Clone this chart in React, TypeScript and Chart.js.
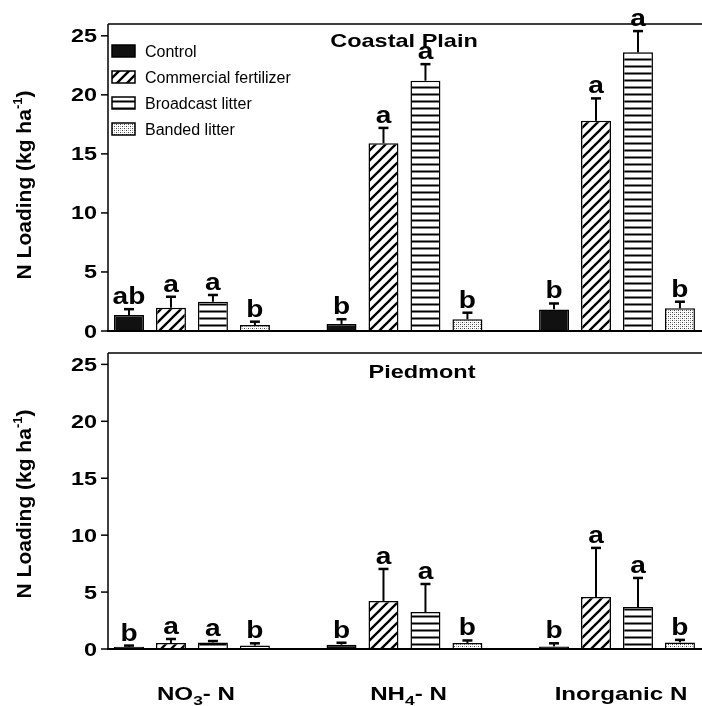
import React, { useEffect, useRef } from 'react';
import { Chart, registerables } from 'chart.js';

Chart.register(...registerables);

// ---------------- data ----------------
const categories = ['NO₃- N', 'NH₄- N', 'Inorganic N'];
const seriesNames = ['Control', 'Commercial fertilizer', 'Broadcast litter', 'Banded litter'];
const yTicks = [0, 5, 10, 15, 20, 25];
const yAxisTitle = 'N Loading (kg ha⁻¹)';

// Coastal Plain
const cpControl = [1.35, 0.6, 1.83];
const cpFertilizer = [1.97, 15.9, 17.8];
const cpBroadcast = [2.48, 21.2, 23.6];
const cpBanded = [0.5, 0.99, 1.92];
const cpControlErr = [0.5, 0.4, 0.5];
const cpFertilizerErr = [0.93, 1.3, 1.9];
const cpBroadcastErr = [0.57, 1.4, 1.8];
const cpBandedErr = [0.29, 0.56, 0.56];
const cpControlLetters = ['ab', 'b', 'b'];
const cpFertilizerLetters = ['a', 'a', 'a'];
const cpBroadcastLetters = ['a', 'a', 'a'];
const cpBandedLetters = ['b', 'b', 'b'];

// Piedmont
const pdControl = [0.2, 0.38, 0.23];
const pdFertilizer = [0.53, 4.22, 4.57];
const pdBroadcast = [0.58, 3.25, 3.69];
const pdBanded = [0.3, 0.53, 0.58];
const pdControlErr = [0.1, 0.17, 0.27];
const pdFertilizerErr = [0.35, 2.81, 4.31];
const pdBroadcastErr = [0.12, 2.46, 2.55];
const pdBandedErr = [0.2, 0.22, 0.22];
const pdControlLetters = ['b', 'b', 'b'];
const pdFertilizerLetters = ['a', 'a', 'a'];
const pdBroadcastLetters = ['a', 'a', 'a'];
const pdBandedLetters = ['b', 'b', 'b'];

// ---------------- helpers ----------------
const FAMILY = '"Liberation Sans", Arial, Helvetica, sans-serif';
const STRETCH = 1.27;

type Run = { t: string; size: number; dy: number };

function drawRuns(
  ctx: CanvasRenderingContext2D,
  runs: Run[],
  x: number,
  y: number,
  align: 'left' | 'center' | 'right',
  sx: number,
  weight = 'bold'
) {
  ctx.save();
  const widths = runs.map((r) => {
    ctx.font = `${weight} ${r.size}px ${FAMILY}`;
    return ctx.measureText(r.t).width;
  });
  const total = widths.reduce((s, w) => s + w, 0) * sx;
  const x0 = align === 'center' ? x - total / 2 : align === 'right' ? x - total : x;
  ctx.translate(x0, y);
  ctx.scale(sx, 1);
  ctx.textAlign = 'left';
  ctx.textBaseline = 'alphabetic';
  let cx = 0;
  runs.forEach((r, i) => {
    ctx.font = `${weight} ${r.size}px ${FAMILY}`;
    ctx.fillText(r.t, cx, r.dy);
    cx += widths[i];
  });
  ctx.restore();
}

const SUBS = '₀₁₂₃₄₅₆₇₈₉';
const SUPS: Record<string, string> = { '⁻': '-', '¹': '1', '²': '2', '³': '3' };

function toRuns(label: string, size: number): Run[] {
  const runs: Run[] = [];
  for (const ch of label) {
    const si = SUBS.indexOf(ch);
    if (si >= 0) {
      runs.push({ t: String(si), size: size * 0.72, dy: size * 0.28 });
    } else if (SUPS[ch] !== undefined) {
      const last = runs[runs.length - 1];
      if (last && last.dy < 0) last.t += SUPS[ch];
      else runs.push({ t: SUPS[ch], size: size * 0.62, dy: -size * 0.4 });
    } else {
      const last = runs[runs.length - 1];
      if (last && last.dy === 0) last.t += ch;
      else runs.push({ t: ch, size, dy: 0 });
    }
  }
  return runs;
}

function makePatterns(): (string | CanvasPattern)[] {
  const mk = (w: number, h: number, draw: (g: CanvasRenderingContext2D) => void) => {
    const c = document.createElement('canvas');
    c.width = w;
    c.height = h;
    const g = c.getContext('2d')!;
    g.fillStyle = '#fff';
    g.fillRect(0, 0, w, h);
    draw(g);
    return g.createPattern(c, 'repeat')!;
  };
  const diag = mk(10, 10, (g) => {
    g.strokeStyle = '#000';
    g.lineWidth = 2.3;
    g.beginPath();
    g.moveTo(-2, 12);
    g.lineTo(12, -2);
    g.moveTo(-7, 7);
    g.lineTo(7, -7);
    g.moveTo(3, 17);
    g.lineTo(17, 3);
    g.stroke();
  });
  const horiz = mk(7, 7, (g) => {
    g.fillStyle = '#000';
    g.fillRect(0, 2.5, 7, 2);
  });
  const dots = mk(4, 4, (g) => {
    g.fillStyle = '#444';
    g.fillRect(0, 0, 1, 1);
    g.fillRect(2, 2, 1, 1);
    g.fillStyle = '#aaa';
    g.fillRect(2, 0, 1, 1);
    g.fillRect(0, 2, 1, 1);
  });
  return ['#111', diag, horiz, dots];
}

interface PanelSpec {
  title: string;
  titleX: number;
  titleBaseline: number;
  values: number[][];
  errors: number[][];
  letters: string[][];
  legend: boolean;
  xLabels: boolean;
  xLabelBaseline: number;
  yTitleCenter: number;
  padTop: number;
  padBottom: number;
}

function buildPanel(canvas: HTMLCanvasElement, p: PanelSpec) {
  const patterns = makePatterns();
  const decor = {
    id: 'decor',
    afterDatasetsDraw(chart: any) {
      const ctx: CanvasRenderingContext2D = chart.ctx;
      const a = chart.chartArea;
      const xs = chart.scales.x;
      const ys = chart.scales.y;
      ctx.save();
      ctx.strokeStyle = '#000';
      ctx.fillStyle = '#000';
      ctx.lineCap = 'butt';

      // frame
      ctx.lineWidth = 1.5;
      ctx.beginPath();
      ctx.moveTo(a.left, a.top);
      ctx.lineTo(a.right, a.top);
      ctx.moveTo(a.left, a.top);
      ctx.lineTo(a.left, a.bottom);
      ctx.stroke();
      ctx.lineWidth = 2;
      ctx.beginPath();
      ctx.moveTo(a.left - 1, a.bottom);
      ctx.lineTo(a.right, a.bottom);
      ctx.stroke();

      // y ticks + labels
      ctx.lineWidth = 1.5;
      yTicks.forEach((v) => {
        const py = ys.getPixelForValue(v);
        ctx.beginPath();
        ctx.moveTo(a.left - 7, py);
        ctx.lineTo(a.left, py);
        ctx.stroke();
        drawRuns(ctx, [{ t: String(v), size: 18, dy: 0 }], a.left - 11, py + 6.5, 'right', 1.3);
      });

      // y axis title (rotated)
      ctx.save();
      ctx.translate(23, p.yTitleCenter);
      ctx.rotate(-Math.PI / 2);
      drawRuns(ctx, toRuns(yAxisTitle, 21), 0, 7.5, 'center', 1);
      ctx.restore();

      // error bars + letters
      p.values.forEach((vals, di) => {
        const meta = chart.getDatasetMeta(di);
        meta.data.forEach((bar: any, j: number) => {
          const top = ys.getPixelForValue(vals[j] + p.errors[di][j]);
          ctx.lineWidth = 2;
          ctx.beginPath();
          ctx.moveTo(bar.x, bar.y);
          ctx.lineTo(bar.x, top);
          ctx.stroke();
          ctx.lineWidth = 2.5;
          ctx.beginPath();
          ctx.moveTo(bar.x - 5, top);
          ctx.lineTo(bar.x + 5, top);
          ctx.stroke();
          drawRuns(ctx, [{ t: p.letters[di][j], size: 24, dy: 0 }], bar.x, top - 5, 'center', 1.17);
        });
      });

      // panel title
      drawRuns(ctx, [{ t: p.title, size: 18.5, dy: 0 }], p.titleX, p.titleBaseline, 'center', STRETCH);

      // legend
      if (p.legend) {
        seriesNames.forEach((name, i) => {
          const cy = 51 + i * 26;
          ctx.fillStyle = patterns[i] as any;
          ctx.fillRect(112, cy - 6, 23, 12);
          ctx.strokeStyle = '#000';
          ctx.lineWidth = 1.5;
          ctx.strokeRect(112, cy - 6, 23, 12);
          ctx.fillStyle = '#000';
          drawRuns(ctx, [{ t: name, size: 16, dy: 0 }], 145, cy + 5.5, 'left', 1, 'normal');
        });
      }

      // x labels
      if (p.xLabels) {
        categories.forEach((c, i) => {
          drawRuns(ctx, toRuns(c, 19), xs.getPixelForValue(i) + 4, p.xLabelBaseline, 'center', STRETCH);
        });
      }
      ctx.restore();
    },
  };

  return new Chart(canvas, {
    type: 'bar',
    data: {
      datasets: seriesNames.map((name, i) => ({
        label: name,
        data: p.values[i].map((v, j) => ({ x: j, y: v })),
        backgroundColor: patterns[i] as any,
        borderColor: '#000',
        borderWidth: 1.5,
        barPercentage: 0.714,
        categoryPercentage: 0.79,
      })),
    },
    options: {
      animation: false,
      responsive: false,
      devicePixelRatio: 1,
      layout: { padding: { left: 108, right: 0, top: p.padTop, bottom: p.padBottom } },
      plugins: {
        legend: { display: false },
        tooltip: { enabled: false },
        title: { display: false },
      },
      scales: {
        x: {
          type: 'linear',
          display: false,
          min: -0.395,
          max: 2.4,
          offset: false,
          afterBuildTicks: (s: any) => {
            s.ticks = categories.map((_, i) => ({ value: i }));
          },
        },
        y: {
          type: 'linear',
          display: false,
          min: 0,
          max: 26,
          afterBuildTicks: (s: any) => {
            s.ticks = yTicks.map((v) => ({ value: v }));
          },
        },
      },
    } as any,
    plugins: [decor],
  });
}

export default function App() {
  const topRef = useRef<HTMLCanvasElement>(null);
  const botRef = useRef<HTMLCanvasElement>(null);

  useEffect(() => {
    const c1 = buildPanel(topRef.current!, {
      title: 'Coastal Plain',
      titleX: 404,
      titleBaseline: 47,
      values: [cpControl, cpFertilizer, cpBroadcast, cpBanded],
      errors: [cpControlErr, cpFertilizerErr, cpBroadcastErr, cpBandedErr],
      letters: [cpControlLetters, cpFertilizerLetters, cpBroadcastLetters, cpBandedLetters],
      legend: true,
      xLabels: false,
      xLabelBaseline: 0,
      yTitleCenter: 185,
      padTop: 24,
      padBottom: 9,
    });
    const c2 = buildPanel(botRef.current!, {
      title: 'Piedmont',
      titleX: 422,
      titleBaseline: 38,
      values: [pdControl, pdFertilizer, pdBroadcast, pdBanded],
      errors: [pdControlErr, pdFertilizerErr, pdBroadcastErr, pdBandedErr],
      letters: [pdControlLetters, pdFertilizerLetters, pdBroadcastLetters, pdBandedLetters],
      legend: false,
      xLabels: true,
      xLabelBaseline: 360,
      yTitleCenter: 164,
      padTop: 13,
      padBottom: 57,
    });
    return () => {
      c1.destroy();
      c2.destroy();
    };
  }, []);

  return (
    <div style={{ position: 'absolute', left: 0, top: 0, width: 702, height: 706, background: '#fff' }}>
      <canvas
        ref={topRef}
        width={702}
        height={340}
        style={{ position: 'absolute', left: 0, top: 0, width: 702, height: 340 }}
      />
      <canvas
        ref={botRef}
        width={702}
        height={366}
        style={{ position: 'absolute', left: 0, top: 340, width: 702, height: 366 }}
      />
    </div>
  );
}
